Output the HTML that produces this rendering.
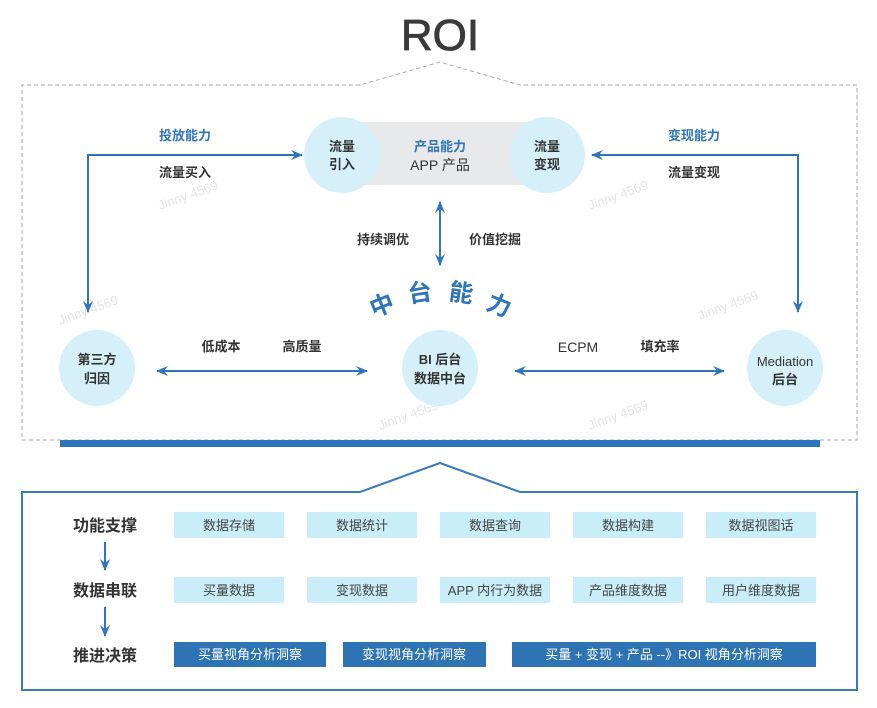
<!DOCTYPE html>
<html><head><meta charset="utf-8"><style>
body{margin:0;background:#fff;}
svg text{font-family:"Liberation Sans","Noto Sans CJK SC",sans-serif;}
</style></head><body>
<svg width="877" height="703" viewBox="0 0 877 703" xmlns="http://www.w3.org/2000/svg">
<defs>
<marker id="a" markerWidth="14" markerHeight="14" refX="11" refY="6" orient="auto-start-reverse" markerUnits="userSpaceOnUse"><path d="M0,1 L12,6 L0,11 L4,6 Z" fill="#2f75bd"/></marker>
</defs>
<text x="440" y="50" text-anchor="middle" font-size="44" fill="#3a3a3a" stroke="#3a3a3a" stroke-width="0.8">ROI</text>
<path d="M360,85 L22,85 L22,440 L857,440 L857,85 L520,85 L440,62 Z" fill="none" stroke="#aaa" stroke-dasharray="4,3" stroke-width="1"/>
<rect x="60" y="440" width="760" height="7" fill="#2f75bd"/>
<g fill="#ddd" font-size="13" opacity="0.8">
<text transform="translate(160,210) rotate(-20)">Jinny 4569</text>
<text transform="translate(590,210) rotate(-20)">Jinny 4569</text>
<text transform="translate(380,430) rotate(-20)">Jinny 4569</text>
<text transform="translate(700,320) rotate(-20)">Jinny 4569</text>
<text transform="translate(60,325) rotate(-20)">Jinny 4569</text>
<text transform="translate(590,430) rotate(-20)">Jinny 4569</text>
</g>
<rect x="340" y="122" width="205" height="63" fill="#e8e9eb"/>
<circle cx="342" cy="155" r="38" fill="#d6f0fa"/>
<circle cx="547" cy="155" r="38" fill="#d6f0fa"/>
<g font-size="13" font-weight="bold" fill="#333" text-anchor="middle">
<text x="342" y="151">流量</text><text x="342" y="169">引入</text>
<text x="547" y="151">流量</text><text x="547" y="169">变现</text>
</g>
<text x="440" y="151" text-anchor="middle" font-size="13" font-weight="bold" fill="#2f75bd">产品能力</text>
<text x="440" y="170" text-anchor="middle" font-size="14" fill="#333">APP 产品</text>
<g stroke="#2f75bd" stroke-width="2" fill="none">
<path d="M88,312 L88,155 L302,155" marker-end="url(#a)" marker-start="url(#a)"/>
<path d="M798,312 L798,155 L592,155" marker-end="url(#a)" marker-start="url(#a)"/>
<path d="M440,202 L440,265" marker-end="url(#a)" marker-start="url(#a)"/>
<path d="M157,371 L367,371" marker-end="url(#a)" marker-start="url(#a)"/>
<path d="M515,371 L724,371" marker-end="url(#a)" marker-start="url(#a)"/>
</g>
<g font-size="13" font-weight="bold" text-anchor="middle">
<text x="185" y="140" fill="#2f75bd">投放能力</text>
<text x="185" y="177" fill="#333">流量买入</text>
<text x="694" y="140" fill="#2f75bd">变现能力</text>
<text x="694" y="177" fill="#333">流量变现</text>
<text x="383" y="244" fill="#333">持续调优</text>
<text x="495" y="244" fill="#333">价值挖掘</text>
<text x="221" y="351" fill="#333">低成本</text>
<text x="302" y="351" fill="#333">高质量</text>
<text x="660" y="351" fill="#333">填充率</text>
</g>
<text x="578" y="352" text-anchor="middle" font-size="14" fill="#333">ECPM</text>
<g font-size="24" font-weight="bold" fill="#2f75bd" text-anchor="middle">
<text transform="translate(385,313) rotate(-22)">中</text>
<text transform="translate(421,301) rotate(-8)">台</text>
<text transform="translate(460,301) rotate(8)">能</text>
<text transform="translate(496,313) rotate(22)">力</text>
</g>
<circle cx="97" cy="368" r="38" fill="#d6f0fa"/>
<circle cx="440" cy="368" r="38" fill="#d6f0fa"/>
<circle cx="785" cy="368" r="38" fill="#d6f0fa"/>
<g font-size="13" font-weight="bold" fill="#333" text-anchor="middle">
<text x="97" y="364">第三方</text><text x="97" y="383">归因</text>
<text x="440" y="364">BI 后台</text><text x="440" y="383">数据中台</text>
<text x="785" y="384">后台</text>
</g>
<text x="785" y="366" text-anchor="middle" font-size="13" fill="#333">Mediation</text>
<path d="M360,492 L22,492 L22,690 L857,690 L857,492 L520,492 L440,463 Z" fill="none" stroke="#3a7bbf" stroke-width="2"/>
<g font-size="16" font-weight="bold" fill="#333" text-anchor="middle">
<text x="105" y="531">功能支撑</text>
<text x="105" y="596">数据串联</text>
<text x="105" y="661">推进决策</text>
</g>
<g stroke="#2f75bd" stroke-width="2"><path d="M105,542 L105,570" marker-end="url(#a)"/><path d="M105,607 L105,636" marker-end="url(#a)"/></g>
<g fill="#c9eefa">
<rect x="174" y="512" width="110" height="26"/><rect x="307" y="512" width="110" height="26"/><rect x="440" y="512" width="110" height="26"/><rect x="573" y="512" width="110" height="26"/><rect x="706" y="512" width="110" height="26"/>
<rect x="174" y="577" width="110" height="26"/><rect x="307" y="577" width="110" height="26"/><rect x="440" y="577" width="110" height="26"/><rect x="573" y="577" width="110" height="26"/><rect x="706" y="577" width="110" height="26"/>
</g>
<g font-size="13" fill="#444" text-anchor="middle">
<text x="229" y="530">数据存储</text><text x="362" y="530">数据统计</text><text x="495" y="530">数据查询</text><text x="628" y="530">数据构建</text><text x="761" y="530">数据视图话</text>
<text x="229" y="595">买量数据</text><text x="362" y="595">变现数据</text><text x="495" y="595">APP 内行为数据</text><text x="628" y="595">产品维度数据</text><text x="761" y="595">用户维度数据</text>
</g>
<g fill="#2e74b5"><rect x="174" y="642" width="152" height="25"/><rect x="343" y="642" width="143" height="25"/><rect x="512" y="642" width="304" height="25"/></g>
<g font-size="13" fill="#fff" text-anchor="middle">
<text x="250" y="659">买量视角分析洞察</text><text x="414" y="659">变现视角分析洞察</text><text x="664" y="659">买量 + 变现 + 产品 --》ROI 视角分析洞察</text>
</g>
</svg>
</body></html>
